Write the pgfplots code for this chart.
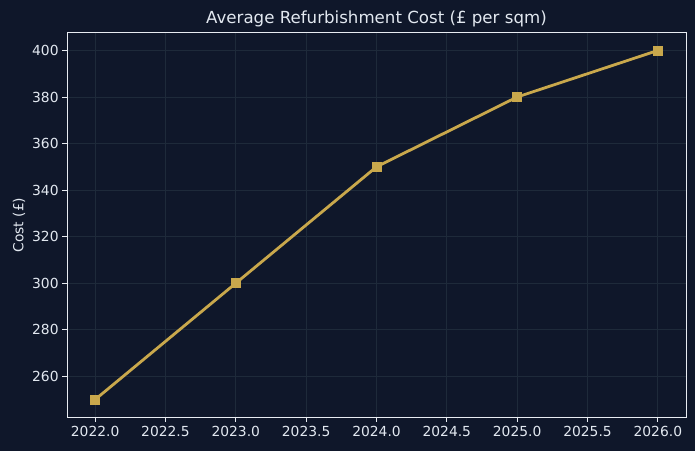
\documentclass[border=0pt]{standalone}
\usepackage{fontspec}
\setmainfont{DejaVu Sans}
\usepackage{pgfplots}
\pgfplotsset{compat=1.18}
\definecolor{bg}{HTML}{0F172A}
\definecolor{gold}{HTML}{C9A84C}
\definecolor{gridc}{HTML}{1E2A3A}
\definecolor{fg}{HTML}{E2E8F0}
\definecolor{frame}{HTML}{E8ECF2}
\begin{document}
\begin{tikzpicture}[x=1bp,y=1bp]
\fill[bg] (-67bp,-34bp) rectangle (628bp,417bp);
\useasboundingbox (-67bp,-34bp) rectangle (628bp,417bp);
\begin{axis}[
  at={(0,0)}, anchor=south west,
  scale only axis, width=619bp, height=384bp,
  xmin=2021.8, xmax=2026.2, ymin=242.5, ymax=407.5,
  xtick={2022,2022.5,...,2026},
  ytick={260,280,...,400},
  xtick pos=bottom, ytick pos=left,
  xticklabel={\pgfmathprintnumber[fixed,fixed zerofill,precision=1,1000 sep={}]{\tick}},
  yticklabel={\pgfmathprintnumber[fixed,precision=0]{\tick}},
  /pgf/number format/assume math mode=true,
  ticklabel style={font=\fontsize{13.9}{16}\selectfont, text=fg},
  tick style={color=frame, line width=0.8bp},
  tick align=outside, major tick length=4.9bp,
  axis line style={color=frame, line width=1bp},
  grid=major, major grid style={color=gridc, line width=0.8bp},
  title={Average Refurbishment Cost (£ per sqm)},
  title style={font=\fontsize{16.7}{19}\selectfont, text=fg, yshift=-3bp},
  ylabel={Cost (£)},
  ylabel style={font=\fontsize{13.9}{16}\selectfont, text=fg},
  xticklabel style={yshift=-1bp},
]
\addplot[color=gold, line width=2.8bp, mark=square*, mark size=4.5bp, mark options={fill=gold, draw=gold, line width=0.5bp}]
  coordinates {(2022,250) (2023,300) (2024,350) (2025,380) (2026,400)};
\end{axis}
\end{tikzpicture}
\end{document}
